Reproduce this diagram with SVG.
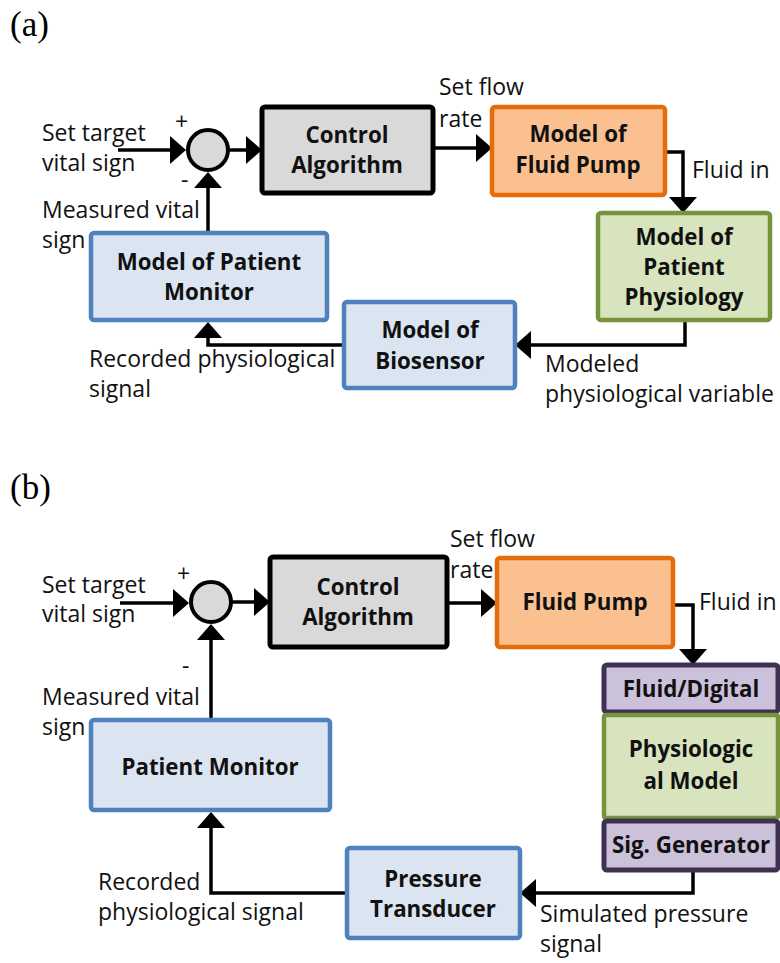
<svg xmlns="http://www.w3.org/2000/svg" width="780" height="963" viewBox="0 0 780 963">
<defs>
<style>
.lbl{font-family:"Open Sans","Liberation Sans",sans-serif;font-size:23px;fill:#111}
.bt{font-family:"Open Sans","Liberation Sans",sans-serif;font-size:22.3px;font-weight:bold;fill:#111;text-anchor:middle}
.pan{font-family:"Liberation Serif",serif;font-size:35px;fill:#000}
.blue{fill:#dbe5f1;stroke:#4f81bd;stroke-width:4.5}
.gray{fill:#d9d9d9;stroke:#000;stroke-width:5}
.orange{fill:#fac090;stroke:#e46c0a;stroke-width:4.5}
.green{fill:#d7e4bd;stroke:#77933c;stroke-width:4.5}
.purple{fill:#ccc1da;stroke:#3f3151;stroke-width:5}
.sum{fill:#d9d9d9;stroke:#000;stroke-width:4}
.con{fill:none;stroke:#000;stroke-width:3.5;marker-end:url(#ah)}
</style>
<marker id="ah" markerUnits="userSpaceOnUse" markerWidth="16" markerHeight="28" refX="0" refY="14" orient="auto" overflow="visible">
<path d="M0,0 L16,14 L0,28 z" fill="#000"/>
</marker>
</defs>
<rect width="780" height="963" fill="#fff"/>

<text class="pan" x="10" y="36">(a)</text>
<text class="pan" x="10" y="499">(b)</text>

<g id="connectors">
<path class="con" d="M118,150 H170"/>
<path class="con" d="M228,150 H246"/>
<path class="con" d="M433,148 H476"/>
<path class="con" d="M665,152 H683 V197"/>
<path class="con" d="M685,320 V345 H531"/>
<path class="con" d="M344,345 H208 V338"/>
<path class="con" d="M208,233 V188"/>

<path class="con" d="M120,603 H173"/>
<path class="con" d="M231,602 H254"/>
<path class="con" d="M447,603 H481"/>
<path class="con" d="M673,605 H693 V649"/>
<path class="con" d="M693,870 V893 H536"/>
<path class="con" d="M347,893 H211 V828"/>
<path class="con" d="M211,720 V640"/>
</g>

<g id="labels-a">
<text class="lbl" x="42" y="141">Set target</text>
<text class="lbl" x="42" y="171">vital sign</text>
<text class="lbl" x="175" y="130">+</text>
<text class="lbl" x="181" y="188">-</text>
<text class="lbl" x="42" y="218">Measured vital</text>
<text class="lbl" x="42" y="248">sign</text>
<text class="lbl" x="439" y="95">Set flow</text>
<text class="lbl" x="439" y="127">rate</text>
<text class="lbl" x="692" y="178">Fluid in</text>
<text class="lbl" x="89" y="367">Recorded physiological</text>
<text class="lbl" x="89" y="397">signal</text>
<text class="lbl" x="545" y="372">Modeled</text>
<text class="lbl" x="545" y="402">physiological variable</text>
</g>

<g id="sum-a"><circle class="sum" cx="208" cy="150" r="20"/></g>
<g id="control-a">
<rect class="gray" x="262" y="107" width="171" height="86" rx="3"/>
<text class="bt" x="347" y="143">Control</text>
<text class="bt" x="347" y="173">Algorithm</text>
</g>
<g id="pump-a">
<rect class="orange" x="492" y="107" width="173" height="88" rx="3"/>
<text class="bt" x="578" y="142">Model of</text>
<text class="bt" x="578" y="173">Fluid Pump</text>
</g>
<g id="physiology-a">
<rect class="green" x="598" y="213" width="172" height="107" rx="3"/>
<text class="bt" x="684" y="245">Model of</text>
<text class="bt" x="684" y="275">Patient</text>
<text class="bt" x="684" y="305">Physiology</text>
</g>
<g id="biosensor-a">
<rect class="blue" x="344" y="302" width="171" height="86" rx="3"/>
<text class="bt" x="430" y="338">Model of</text>
<text class="bt" x="430" y="369">Biosensor</text>
</g>
<g id="monitor-a">
<rect class="blue" x="91" y="233" width="236" height="87" rx="3"/>
<text class="bt" x="209" y="270">Model of Patient</text>
<text class="bt" x="209" y="300">Monitor</text>
</g>

<g id="labels-b">
<text class="lbl" x="42" y="593">Set target</text>
<text class="lbl" x="42" y="622">vital sign</text>
<text class="lbl" x="177" y="582">+</text>
<text class="lbl" x="182" y="674">-</text>
<text class="lbl" x="42" y="705">Measured vital</text>
<text class="lbl" x="42" y="735">sign</text>
<text class="lbl" x="450" y="547">Set flow</text>
<text class="lbl" x="450" y="578">rate</text>
<text class="lbl" x="699" y="610">Fluid in</text>
<text class="lbl" x="98" y="890">Recorded</text>
<text class="lbl" x="98" y="920">physiological signal</text>
<text class="lbl" x="540" y="922">Simulated pressure</text>
<text class="lbl" x="540" y="952">signal</text>
</g>

<g id="sum-b"><circle class="sum" cx="211" cy="602" r="20"/></g>
<g id="control-b">
<rect class="gray" x="270" y="557" width="177" height="90" rx="3"/>
<text class="bt" x="358" y="595">Control</text>
<text class="bt" x="358" y="625">Algorithm</text>
</g>
<g id="pump-b">
<rect class="orange" x="497" y="558" width="176" height="89" rx="3"/>
<text class="bt" x="585" y="610">Fluid Pump</text>
</g>
<g id="fluid-digital-b">
<rect class="purple" x="604" y="665" width="174" height="47" rx="3"/>
<text class="bt" x="691" y="697">Fluid/Digital</text>
</g>
<g id="physio-model-b">
<rect class="green" x="604" y="715" width="174" height="103" rx="2"/>
<text class="bt" x="691" y="757">Physiologic</text>
<text class="bt" x="691" y="789">al Model</text>
</g>
<g id="sig-gen-b">
<rect class="purple" x="604" y="821" width="174" height="49" rx="3"/>
<text class="bt" x="691" y="853">Sig. Generator</text>
</g>
<g id="transducer-b">
<rect class="blue" x="347" y="848" width="173" height="90" rx="3"/>
<text class="bt" x="433" y="887">Pressure</text>
<text class="bt" x="433" y="917">Transducer</text>
</g>
<g id="monitor-b">
<rect class="blue" x="91" y="720" width="239" height="90" rx="3"/>
<text class="bt" x="210" y="775">Patient Monitor</text>
</g>
</svg>
